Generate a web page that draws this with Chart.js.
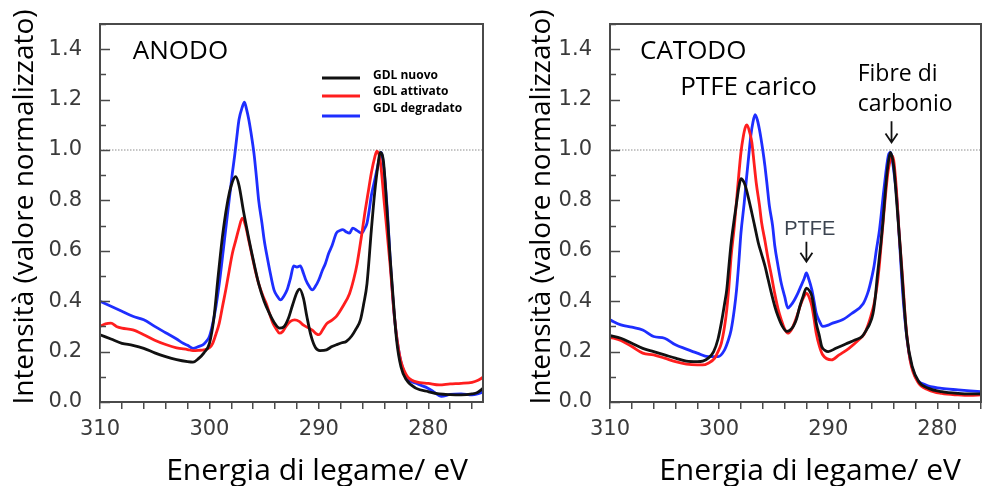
<!DOCTYPE html>
<html>
<head>
<meta charset="utf-8">
<script src="https://cdn.jsdelivr.net/npm/chart.js@4.4.1/dist/chart.umd.min.js"></script>
<style>
  html, body { margin: 0; padding: 0; background: #fff; }
  #wrap { position: relative; width: 982px; height: 486px; overflow: hidden; }
  .panel { position: absolute; top: 0; height: 486px; }
  #p1 { left: 0; width: 500px; }
  #p2 { left: 500px; width: 482px; }
</style>
</head>
<body>
<div id="wrap">
  <div class="panel" id="p1"><canvas id="anodo"></canvas></div>
  <div class="panel" id="p2"><canvas id="catodo"></canvas></div>
</div>
<script>
// series names / colours
const seriesLabels = ["GDL nuovo", "GDL attivato", "GDL degradato"];
const seriesColors = ["#111111", "#ff1e1e", "#1e2eff"];

// ANODO panel (energy in eV, normalised intensity)
const anodoNuovoE = [310, 309, 308, 307, 306, 305, 304, 303, 302, 301.5, 301, 300.5, 300, 299.6, 299.2, 298.8, 298.4, 298.0, 297.6, 297.3, 296.9, 296.5, 296.0, 295.5, 295.0, 294.5, 294.0, 293.6, 293.2, 292.8, 292.4, 292.0, 291.75, 291.4, 291.1, 290.7, 290.3, 289.9, 289.3, 288.8, 288.4, 287.9, 287.5, 287.0, 286.6, 286.2, 285.9, 285.6, 285.2, 284.9, 284.6, 284.4, 284.1, 283.8, 283.5, 283.2, 282.9, 282.5, 282, 281.1, 280, 279, 278, 277, 276, 275.5, 275];
const anodoNuovoI = [0.267, 0.25, 0.233, 0.225, 0.213, 0.195, 0.18, 0.168, 0.16, 0.158, 0.172, 0.195, 0.233, 0.33, 0.5, 0.66, 0.78, 0.86, 0.894, 0.86, 0.76, 0.67, 0.565, 0.47, 0.4, 0.35, 0.31, 0.293, 0.298, 0.33, 0.385, 0.435, 0.448, 0.41, 0.34, 0.26, 0.215, 0.204, 0.207, 0.22, 0.227, 0.235, 0.24, 0.262, 0.29, 0.326, 0.39, 0.47, 0.684, 0.83, 0.94, 0.99, 0.956, 0.78, 0.58, 0.406, 0.247, 0.14, 0.088, 0.054, 0.041, 0.032, 0.029, 0.028, 0.032, 0.038, 0.054];

const anodoAttivatoE = [310, 309.5, 309, 308.5, 308, 307, 306, 305, 304, 303, 302, 301.5, 301, 300.5, 300, 299.7, 299.4, 299.1, 298.8, 298.5, 298.2, 297.9, 297.6, 297.3, 297.0, 296.7, 296.4, 296.1, 295.8, 295.5, 295.1, 294.8, 294.5, 294.2, 293.9, 293.6, 293.3, 293.0, 292.6, 292.2, 291.8, 291.4, 291.0, 290.6, 290.2, 290.0, 289.6, 289.3, 288.8, 288.4, 287.8, 287.2, 286.8, 286.5, 286.1, 285.8, 285.5, 285.2, 284.9, 284.7, 284.4, 284.0, 283.5, 283.1, 282.6, 282.0, 281.1, 280, 279, 278, 277, 276, 275.5, 275];
const anodoAttivatoI = [0.30, 0.31, 0.313, 0.30, 0.293, 0.286, 0.267, 0.245, 0.228, 0.215, 0.208, 0.204, 0.205, 0.207, 0.215, 0.233, 0.27, 0.313, 0.38, 0.446, 0.52, 0.59, 0.64, 0.69, 0.73, 0.70, 0.64, 0.58, 0.52, 0.47, 0.42, 0.39, 0.35, 0.313, 0.29, 0.273, 0.28, 0.30, 0.32, 0.326, 0.32, 0.305, 0.295, 0.285, 0.27, 0.267, 0.29, 0.31, 0.325, 0.34, 0.38, 0.43, 0.49, 0.55, 0.66, 0.75, 0.83, 0.91, 0.97, 0.995, 0.96, 0.78, 0.55, 0.34, 0.18, 0.107, 0.08, 0.074, 0.068, 0.072, 0.074, 0.078, 0.085, 0.098];

const anodoDegradatoE = [310, 309.5, 309, 308, 307, 306, 305, 304, 303, 302.4, 302, 301.5, 301, 300.6, 300.3, 300, 299.7, 299.4, 299.1, 298.8, 298.5, 298.2, 297.9, 297.7, 297.5, 297.3, 297.0, 296.8, 296.6, 296.4, 296.1, 295.9, 295.7, 295.5, 295.2, 295.0, 294.7, 294.5, 294.1, 293.8, 293.5, 293.2, 292.9, 292.6, 292.3, 292.0, 291.7, 291.4, 291.2, 290.9, 290.6, 290.3, 290.0, 289.7, 289.4, 289.1, 288.8, 288.4, 288.1, 287.8, 287.5, 287.2, 286.9, 286.5, 286.1, 285.8, 285.6, 285.4, 285.2, 284.9, 284.7, 284.5, 284.3, 284.0, 283.7, 283.5, 283.1, 282.6, 282.0, 281.1, 280, 279.5, 278.8, 278, 277, 276, 275.5, 275];
const anodoDegradatoI = [0.40, 0.39, 0.38, 0.36, 0.34, 0.326, 0.30, 0.275, 0.25, 0.233, 0.225, 0.213, 0.22, 0.227, 0.24, 0.26, 0.31, 0.38, 0.47, 0.578, 0.69, 0.80, 0.91, 0.976, 1.05, 1.12, 1.17, 1.19, 1.16, 1.12, 1.04, 0.976, 0.89, 0.80, 0.71, 0.644, 0.57, 0.525, 0.445, 0.42, 0.405, 0.42, 0.445, 0.49, 0.54, 0.535, 0.54, 0.51, 0.485, 0.46, 0.445, 0.46, 0.485, 0.52, 0.55, 0.59, 0.62, 0.67, 0.68, 0.684, 0.675, 0.67, 0.69, 0.68, 0.67, 0.69, 0.71, 0.76, 0.82, 0.88, 0.92, 0.96, 0.99, 0.90, 0.73, 0.58, 0.34, 0.18, 0.10, 0.074, 0.054, 0.04, 0.022, 0.03, 0.032, 0.028, 0.032, 0.04];

// CATODO panel
const catodoNuovoE = [310, 309, 308, 307, 306, 305, 304, 303, 302, 301.5, 301, 300.5, 300.1, 299.8, 299.5, 299.3, 299.1, 298.9, 298.6, 298.4, 298.2, 298.0, 297.7, 297.5, 297.0, 296.7, 296.4, 296.1, 295.8, 295.5, 295.2, 294.9, 294.6, 294.2, 293.8, 293.5, 293.2, 292.9, 292.6, 292.3, 292.0, 291.7, 291.5, 291.3, 291.1, 290.8, 290.6, 290.3, 290, 289.3, 288.4, 287.5, 286.9, 286.5, 286.2, 285.9, 285.7, 285.5, 285.2, 285.0, 284.7, 284.5, 284.3, 284.0, 283.7, 283.4, 283.1, 282.8, 282.3, 281.7, 280.8, 279.6, 278.1, 277, 276];
const catodoNuovoI = [0.263, 0.253, 0.233, 0.213, 0.20, 0.187, 0.174, 0.162, 0.16, 0.162, 0.174, 0.20, 0.25, 0.313, 0.39, 0.446, 0.54, 0.63, 0.73, 0.79, 0.85, 0.886, 0.87, 0.843, 0.75, 0.69, 0.63, 0.585, 0.54, 0.485, 0.43, 0.38, 0.34, 0.30, 0.28, 0.285, 0.30, 0.33, 0.38, 0.42, 0.452, 0.44, 0.42, 0.37, 0.313, 0.26, 0.22, 0.205, 0.20, 0.213, 0.23, 0.247, 0.26, 0.286, 0.31, 0.35, 0.41, 0.50, 0.62, 0.71, 0.87, 0.95, 0.99, 0.935, 0.78, 0.61, 0.42, 0.26, 0.14, 0.08, 0.054, 0.041, 0.034, 0.032, 0.032];

const catodoAttivatoE = [310, 309, 308, 307, 306, 305, 304, 303, 302, 301.5, 301, 300.4, 300.1, 299.8, 299.5, 299.3, 299.1, 298.9, 298.6, 298.4, 298.2, 298.0, 297.8, 297.6, 297.45, 297.2, 297.0, 296.8, 296.6, 296.3, 296.1, 295.8, 295.5, 295.2, 294.9, 294.6, 294.3, 294.0, 293.7, 293.4, 293.1, 292.8, 292.5, 292.2, 292.0, 291.7, 291.5, 291.3, 291.1, 290.8, 290.5, 289.7, 289.0, 288.1, 287.2, 286.7, 286.4, 286.1, 285.8, 285.5, 285.3, 284.9, 284.5, 284.1, 283.8, 283.5, 283.2, 282.9, 282.5, 281.8, 280.8, 279.6, 278.1, 277, 276];
const catodoAttivatoI = [0.257, 0.244, 0.22, 0.194, 0.187, 0.174, 0.16, 0.15, 0.147, 0.147, 0.154, 0.174, 0.20, 0.233, 0.30, 0.366, 0.46, 0.578, 0.70, 0.80, 0.90, 0.99, 1.05, 1.09, 1.10, 1.07, 1.03, 0.95, 0.87, 0.78, 0.71, 0.64, 0.565, 0.50, 0.43, 0.37, 0.326, 0.29, 0.273, 0.285, 0.313, 0.35, 0.39, 0.42, 0.432, 0.41, 0.38, 0.33, 0.273, 0.22, 0.187, 0.167, 0.187, 0.213, 0.247, 0.27, 0.30, 0.34, 0.39, 0.47, 0.55, 0.75, 0.92, 0.976, 0.87, 0.67, 0.50, 0.313, 0.167, 0.08, 0.048, 0.034, 0.028, 0.026, 0.028];

const catodoDegradatoE = [310, 309, 308, 307, 306, 305, 304, 303, 302, 301, 300.1, 299.5, 299.2, 298.9, 298.6, 298.4, 298.2, 298.0, 297.7, 297.5, 297.3, 297.1, 296.9, 296.7, 296.5, 296.3, 296.0, 295.8, 295.6, 295.4, 295.1, 294.9, 294.6, 294.3, 294.0, 293.7, 293.4, 293.1, 292.8, 292.5, 292.2, 292.0, 291.8, 291.5, 291.3, 291.1, 290.8, 290.5, 290.0, 289.6, 288.7, 287.8, 286.8, 286.4, 286.2, 285.8, 285.6, 285.3, 284.9, 284.5, 284.3, 284.0, 283.7, 283.5, 283.1, 282.6, 282.0, 281.1, 279.6, 278.1, 277, 276];
const catodoDegradatoI = [0.326, 0.306, 0.297, 0.286, 0.26, 0.253, 0.227, 0.21, 0.194, 0.18, 0.18, 0.207, 0.24, 0.286, 0.37, 0.446, 0.55, 0.67, 0.79, 0.883, 0.97, 1.055, 1.11, 1.14, 1.12, 1.08, 1.0, 0.936, 0.86, 0.78, 0.70, 0.62, 0.54, 0.47, 0.42, 0.373, 0.385, 0.405, 0.43, 0.46, 0.49, 0.512, 0.49, 0.445, 0.40, 0.353, 0.32, 0.30, 0.305, 0.313, 0.326, 0.353, 0.39, 0.43, 0.46, 0.54, 0.60, 0.684, 0.843, 0.976, 0.99, 0.92, 0.80, 0.66, 0.39, 0.194, 0.10, 0.068, 0.054, 0.048, 0.044, 0.041];

// axis text
const xAxisTitle = "Energia di legame/ eV";
const yAxisTitle = "Intensità (valore normalizzato)";

function pairs(e, v) {
  return e.map((x, i) => ({ x: x, y: v[i] }));
}

function makeDatasets(series) {
  return series.map((s, i) => ({
    label: seriesLabels[i],
    data: pairs(s[0], s[1]),
    borderColor: seriesColors[i],
    borderWidth: 2.8,
    pointRadius: 0,
    cubicInterpolationMode: "monotone",
    fill: false
  }));
}

// frame, inner y ticks, dotted 1.0 line, axis titles, annotations
const decor = {
  id: "decor",
  beforeDatasetsDraw(chart) {
    const { ctx, chartArea: a, scales: { y } } = chart;
    const py = y.getPixelForValue(1.0);
    ctx.save();
    ctx.strokeStyle = "#8c8c8c";
    ctx.lineWidth = 1;
    ctx.setLineDash([1.5, 1.5]);
    ctx.beginPath();
    ctx.moveTo(a.left, py);
    ctx.lineTo(a.right, py);
    ctx.stroke();
    ctx.restore();
  },
  afterDraw(chart, args, opts) {
    const { ctx, chartArea: a, scales: { x, y } } = chart;
    ctx.save();
    // frame
    ctx.strokeStyle = "#4a4a4a";
    ctx.lineWidth = 2;
    ctx.strokeRect(a.left, a.top, a.right - a.left, a.bottom - a.top);
    // y ticks pointing inward
    ctx.lineWidth = 1.5;
    y.ticks.forEach(t => {
      const py = Math.round(y.getPixelForValue(t.value)) + 0.5;
      const major = Math.round(t.value * 10) % 2 === 0;
      ctx.beginPath();
      ctx.moveTo(a.left, py);
      ctx.lineTo(a.left + (major ? 10 : 6), py);
      ctx.stroke();
    });
    // axis titles
    ctx.fillStyle = "#000";
    ctx.textAlign = "center";
    ctx.textBaseline = "middle";
    ctx.font = "30px 'Open Sans'";
    ctx.fillText(xAxisTitle, a.left + opts.xTitleDx, 471);
    ctx.font = "28px 'Open Sans'";
    ctx.translate(opts.yTitleX, (a.top + a.bottom) / 2 - 6);
    ctx.rotate(-Math.PI / 2);
    ctx.fillText(yAxisTitle, 0, 0);
    ctx.setTransform(1, 0, 0, 1, 0, 0);
    // annotations anchored in data coordinates
    ctx.textBaseline = "alphabetic";
    (opts.labels || []).forEach(l => {
      ctx.font = l.font;
      ctx.fillStyle = l.color || "#000";
      ctx.textAlign = l.align || "center";
      ctx.fillText(l.text, x.getPixelForValue(l.e), y.getPixelForValue(l.v));
    });
    ctx.strokeStyle = "#111";
    ctx.lineWidth = 1.8;
    (opts.arrows || []).forEach(r => {
      const px = x.getPixelForValue(r.e);
      const y1 = y.getPixelForValue(r.from), y2 = y.getPixelForValue(r.to);
      ctx.beginPath();
      ctx.moveTo(px, y1);
      ctx.lineTo(px, y2);
      ctx.moveTo(px - 6, y2 - 9);
      ctx.lineTo(px, y2);
      ctx.lineTo(px + 6, y2 - 9);
      ctx.stroke();
    });
    // legend
    if (opts.legend) {
      const lx = a.left + 222, ty = [76, 92, 109], ly = [78, 96, 116];
      chart.data.datasets.forEach((d, i) => {
        ctx.strokeStyle = d.borderColor;
        ctx.lineWidth = 3;
        ctx.beginPath();
        ctx.moveTo(lx, ly[i]);
        ctx.lineTo(lx + 38, ly[i]);
        ctx.stroke();
        ctx.fillStyle = "#000";
        ctx.font = "bold 12px 'Open Sans'";
        ctx.textAlign = "left";
        ctx.textBaseline = "middle";
        ctx.fillText(d.label, lx + 51, ty[i]);
      });
    }
    ctx.restore();
  }
};

function makeChart(id, series, xMin, yAxisWidth, padRight, decorOpts) {
  return new Chart(document.getElementById(id), {
    type: "line",
    data: { datasets: makeDatasets(series) },
    plugins: [decor],
    options: {
      responsive: true,
      maintainAspectRatio: false,
      animation: false,
      layout: { padding: { left: 0, right: padRight, top: 24, bottom: 0 } },
      plugins: {
        legend: { display: false },
        tooltip: { enabled: false },
        decor: decorOpts
      },
      scales: {
        x: {
          type: "linear",
          reverse: true,
          min: xMin,
          max: 310,
          afterFit: s => { s.height = 84; s.paddingLeft = 0; s.paddingRight = 0; },
          border: { display: false },
          grid: { drawOnChartArea: false, drawTicks: true, tickLength: 7, color: "#4a4a4a", lineWidth: 1.5 },
          ticks: {
            stepSize: 2,
            includeBounds: false,
            autoSkip: false,
            maxRotation: 0,
            padding: 8,
            color: "#3a3a3a",
            font: { family: "DejaVu Sans", size: 21 },
            callback: v => (v % 10 === 0 ? String(v) : "")
          }
        },
        y: {
          min: 0,
          max: 1.5,
          afterFit: s => { s.width = yAxisWidth; s.paddingTop = 0; s.paddingBottom = 0; },
          border: { display: false },
          grid: { display: false },
          ticks: {
            stepSize: 0.1,
            autoSkip: false,
            padding: 10,
            color: "#3a3a3a",
            font: { family: "DejaVu Sans", size: 21 },
            callback: v => (Math.round(v * 10) % 2 === 0 ? v.toFixed(1) : "")
          }
        }
      }
    }
  });
}

makeChart("anodo",
  [[anodoNuovoE, anodoNuovoI], [anodoAttivatoE, anodoAttivatoI], [anodoDegradatoE, anodoDegradatoI]],
  275, 100, 17,
  {
    xTitleDx: 217, yTitleX: 25, legend: true,
    labels: [{ text: "ANODO", e: 307, v: 1.36, font: "26px 'Open Sans'", align: "left" }]
  });

makeChart("catodo",
  [[catodoNuovoE, catodoNuovoI], [catodoAttivatoE, catodoAttivatoI], [catodoDegradatoE, catodoDegradatoI]],
  276, 110, 1,
  {
    xTitleDx: 200, yTitleX: 42, legend: false,
    labels: [
      { text: "CATODO", e: 307.25, v: 1.36, font: "26px 'Open Sans'", align: "left" },
      { text: "PTFE carico", e: 297.3, v: 1.217, font: "26px 'Open Sans'" },
      { text: "Fibre di", e: 287.3, v: 1.273, font: "23px 'Open Sans'", align: "left" },
      { text: "carbonio", e: 287.3, v: 1.154, font: "23px 'Open Sans'", align: "left" },
      { text: "PTFE", e: 291.7, v: 0.664, font: "20px 'Liberation Sans'", color: "#3c4450" }
    ],
    arrows: [
      { e: 284.2, from: 1.114, to: 1.03 },
      { e: 292.0, from: 0.636, to: 0.557 }
    ]
  });
</script>
</body>
</html>
